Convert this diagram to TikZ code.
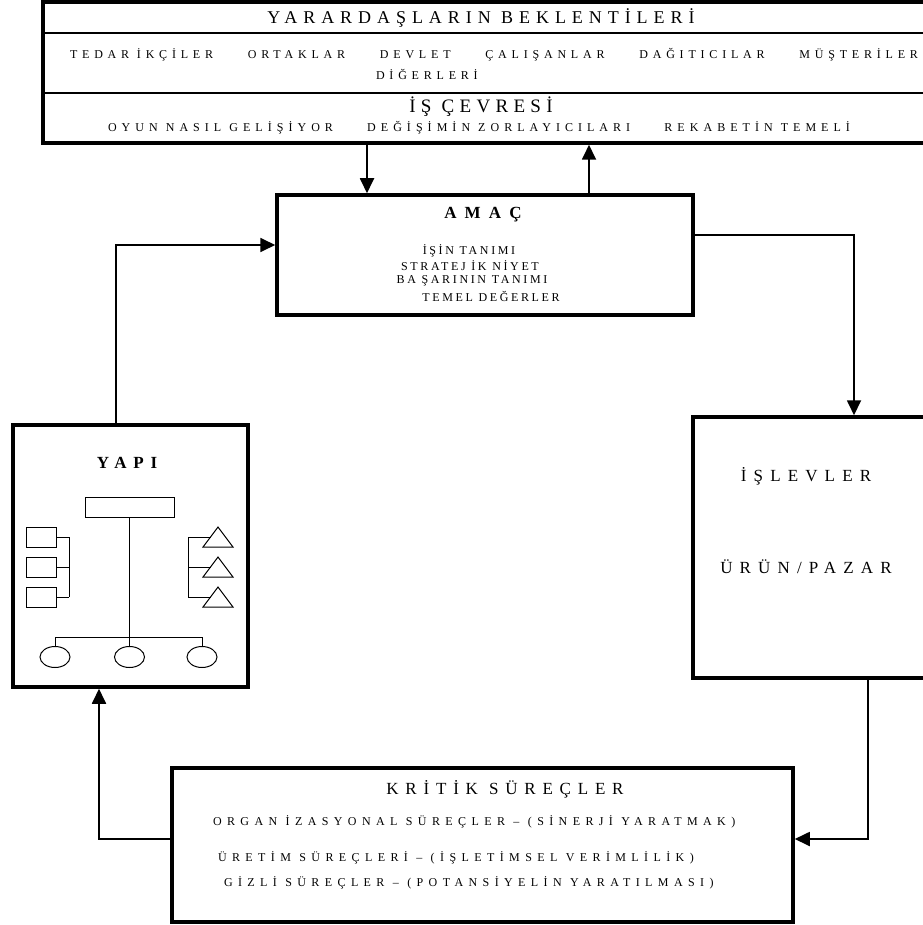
\documentclass[tikz,border=0pt]{standalone}
\usepackage{fontspec}
\setmainfont{Liberation Serif}
\usetikzlibrary{arrows.meta,calc}
% letter-spaced text: \lsp{amount}{text}
\newcommand\lsp[2]{{\addfontfeature{LetterSpace=#1}#2}}
\newcommand\fs[1]{\fontsize{#1}{#1}\selectfont}

\begin{document}
\begin{tikzpicture}[x=1pt,y=-1pt,
  frame/.style={draw, line width=3.5pt, inner sep=0pt},
  rulel/.style={line width=2pt},
  link/.style={line width=1.8pt, -{Triangle[length=15pt,width=14pt]}},
  org/.style={line width=1pt},
  lbl/.style={inner sep=0pt, outer sep=0pt}]
\useasboundingbox (0,0) rectangle (922,925);

% ---------- boxes ----------
\node[frame, minimum width=897pt, minimum height=141pt] (env)  at (491.5,72.5) {};
\node[frame, minimum width=416pt, minimum height=120pt] (amac) at (485,255) {};
\node[frame, minimum width=235pt, minimum height=262pt] (yapi) at (130.5,556) {};
\node[frame, minimum width=247pt, minimum height=261pt] (isl)  at (816.5,547.5) {};
\node[frame, minimum width=621pt, minimum height=154pt] (krit) at (482.5,845) {};

% dividing rules of the top panel
\draw[rulel] (43,33) -- (940,33);
\draw[rulel] (43,93) -- (940,93);

% ---------- top panel text ----------
\node[lbl, font=\fs{18}] (t1) at (481,18) {\lsp{33}{YARARDAŞLARIN BEKLENTİLERİ}};
\node[lbl, anchor=west, font=\fs{12}] (t2) at (70,55)
  {\lsp{40}{\makebox[848pt][s]{TEDAR İKÇİLER\hfill ORTAKLAR\hfill DEVLET\hfill ÇALIŞANLAR\hfill DAĞITICILAR\hfill MÜŞTERİLER}}};
\node[lbl, anchor=west, font=\fs{12}] (t3) at (376,74) {\lsp{40}{DİĞERLERİ}};
\node[lbl, font=\fs{19}] (t4) at (481,107) {\lsp{28}{İŞ ÇEVRESİ}};
\node[lbl, anchor=west, font=\fs{12}] (t5) at (108,128)
  {\lsp{42}{\makebox[742pt][s]{OYUN NASIL GELİŞİYOR\hfill DEĞİŞİMİN ZORLAYICILARI\hfill REKABETİN TEMELİ}}};

% ---------- AMAÇ ----------
\node[lbl, font=\fs{17}\bfseries] (a0) at (483,215) {\lsp{48}{AMAÇ}};
\node[lbl, font=\fs{12}] (a1) at (469,251) {\lsp{22}{İŞİN TANIMI}};
\node[lbl, font=\fs{12}] (a2) at (470,266) {\lsp{22}{STRATEJ İK NİYET}};
\node[lbl, font=\fs{12}] (a3) at (472,281) {\lsp{22}{BA ŞARININ TANIMI}};
\node[lbl, font=\fs{12}] (a4) at (491,296) {\lsp{22}{TEMEL DEĞERLER}};

% ---------- YAPI with its small organisation chart ----------
\node[lbl, font=\fs{17}\bfseries] (y0) at (127,463) {\lsp{40}{YAPI}};
\draw[org] (85,497) rectangle (174,517);
\draw[org] (129.5,517) -- (129.5,637);
\draw[org] (55,637) -- (202,637);
\foreach \x in {55,129.5,202} {
  \draw[org] (\x,637) -- (\x,646.5);
  \draw[org] (\x,657) ellipse [x radius=15, y radius=10.5];
}
\foreach \y in {527,557,587} {
  \draw[org] (26,\y) rectangle (56,\y+20);
  \draw[org] (56,\y+10) -- (69,\y+10);
  \draw[org] (203,\y+20) -- (218,\y) -- (233,\y+20) -- cycle;
  \draw[org] (188,\y+10) -- (210.5,\y+10);
}
\draw[org] (69,537) -- (69,597);
\draw[org] (188,537) -- (188,597);

% ---------- İŞLEVLER ----------
\node[lbl, font=\fs{17}] (i1) at (806,476) {\lsp{42}{İŞLEVLER}};
\node[lbl, font=\fs{17}] (i2) at (806,567) {\lsp{42}{ÜRÜN/PAZAR}};

% ---------- KRİTİK SÜREÇLER ----------
\node[lbl, font=\fs{17}] (k0) at (505,789) {\lsp{40}{KRİTİK SÜREÇLER}};
\node[lbl, anchor=west, font=\fs{12}] (k1) at (213,822) {\lsp{45}{ORGAN İZASYONAL SÜREÇLER – (SİNERJİ YARATMAK)}};
\node[lbl, anchor=west, font=\fs{12}] (k2) at (218,858) {\lsp{45}{ÜRETİM SÜREÇLERİ – (İŞLETİMSEL VERİMLİLİK)}};
\node[lbl, anchor=west, font=\fs{12}] (k3) at (224,883) {\lsp{45}{GİZLİ SÜREÇLER – (POTANSİYELİN YARATILMASI)}};

% ---------- connectors ----------
\coordinate (c1) at (367,0);
\coordinate (c2) at (589,0);
\coordinate (r1) at (854,235);
\coordinate (r2) at (868,839);
\coordinate (l1) at (99,839);
\coordinate (l2) at (116,245);
\draw[link] (env.south -| c1) -- (amac.north -| c1);
\draw[link] (amac.north -| c2) -- (env.south -| c2);
\draw[link] (amac.east |- r1) -| (isl.north -| r1);
\draw[link] (isl.south -| r2) |- (krit.east |- r2);
\draw[link] (krit.west |- l1) -| (yapi.south -| l1);
\draw[link] (yapi.north -| l2) |- (amac.west |- l2);
\end{tikzpicture}
\end{document}
